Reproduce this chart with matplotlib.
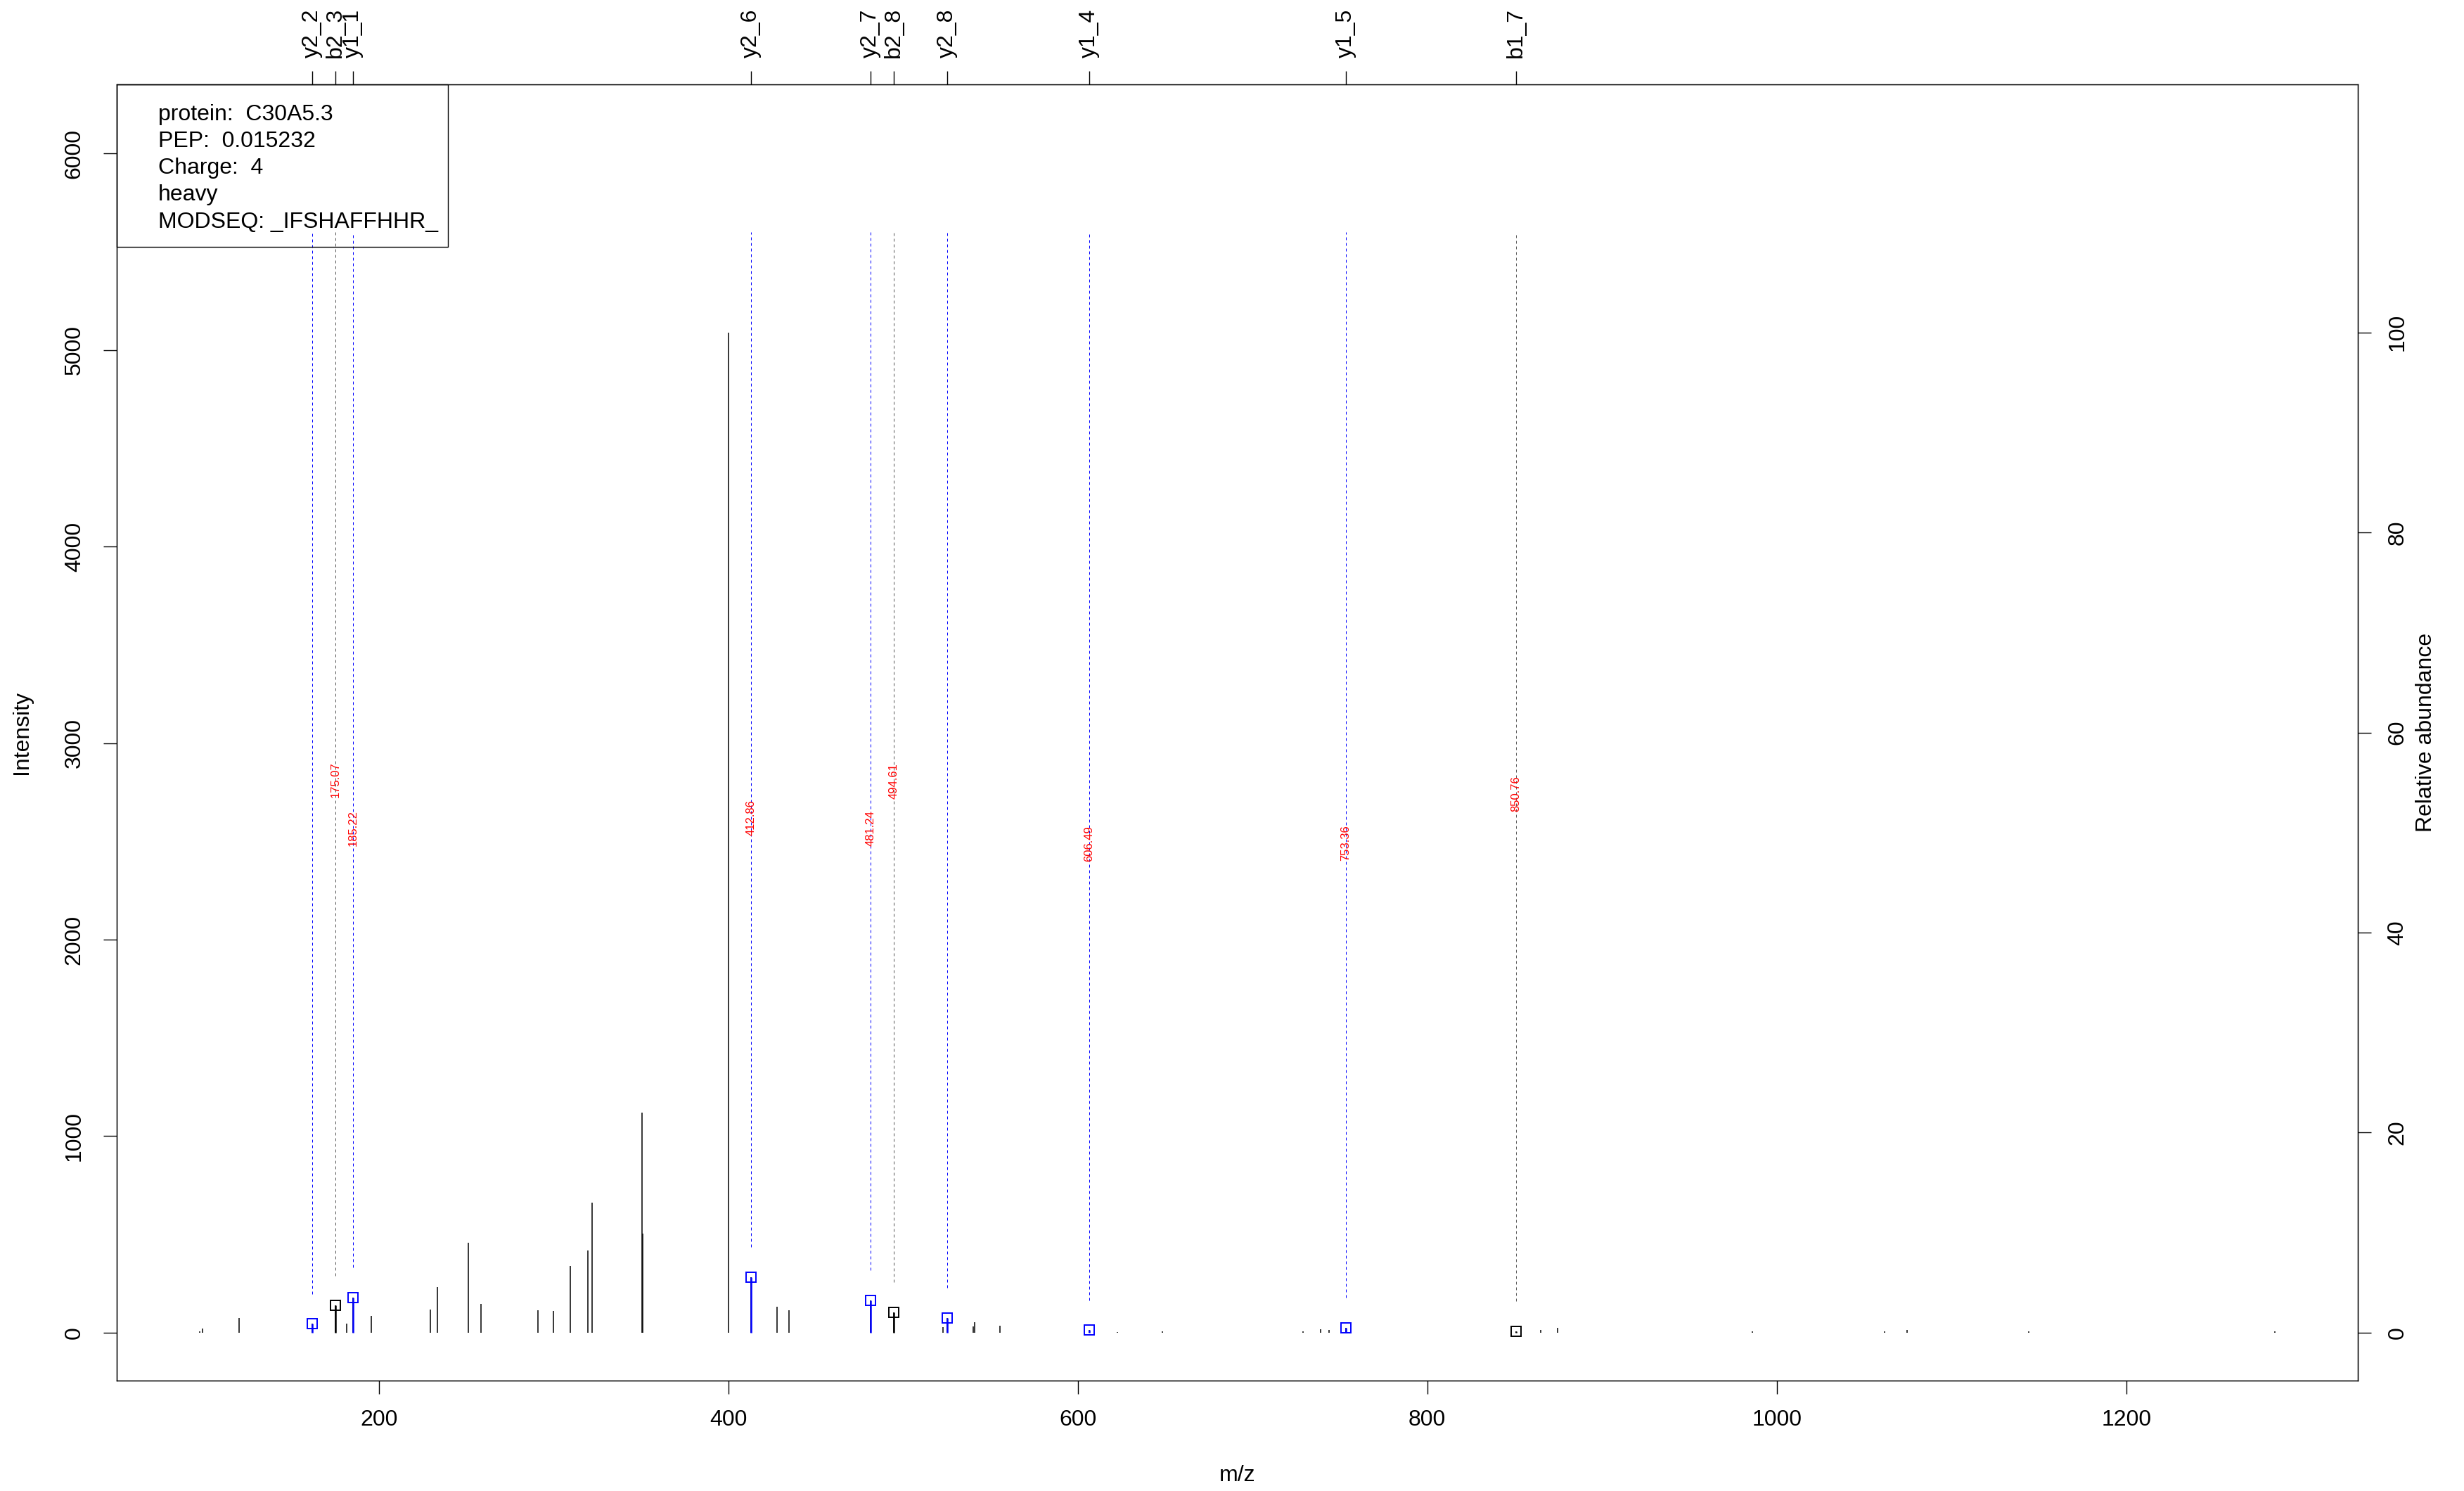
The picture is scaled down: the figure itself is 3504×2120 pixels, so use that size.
import numpy as np
import matplotlib
matplotlib.use("Agg")
import matplotlib.pyplot as plt
from matplotlib.patches import Rectangle

plt.rcParams['font.family'] = ['Liberation Sans', 'DejaVu Sans']

# unmatched peaks (m/z, intensity)
peak_mz = [97.5, 99.2, 120.2, 181.6, 195.5, 229.3, 233.4, 251.4, 258.3, 291.1,
           299.9, 309.4, 319.8, 321.9, 350.5, 351.2, 400.0, 427.7, 434.8, 522.7,
           540.1, 541.0, 555.6, 622.7, 648.4, 728.8, 738.8, 743.8, 864.9, 874.6,
           986.2, 1061.7, 1074.6, 1144.2, 1285.0]
peak_int = [8, 20, 75, 44, 85, 118, 231, 458, 146, 115,
            111, 338, 418, 662, 1120, 505, 5090, 131, 113, 26,
            30, 54, 36, 4, 6, 6, 18, 12, 13, 24,
            8, 8, 13, 8, 8]

# matched fragment ions
ion_names = ["y2_2", "b2_3", "y1_1", "y2_6", "y2_7", "b2_8", "y2_8", "y1_4", "y1_5", "b1_7"]
ion_mz = [162.0, 175.07, 185.22, 412.86, 481.24, 494.61, 525.3, 606.49, 753.36, 850.76]
ion_int = [44, 138, 179, 282, 164, 103, 74, 12, 24, 6]

# red m/z labels and their heights
mz_labels = ["175.07", "185.22", "412.86", "481.24", "494.61", "606.49", "753.36", "850.76"]
mz_label_x = [175.07, 185.22, 412.86, 481.24, 494.61, 606.49, 753.36, 850.76]
mz_label_y = [2815, 2569, 2622, 2566, 2808, 2490, 2490, 2742]

info_lines = ["protein:  C30A5.3", "PEP:  0.015232", "Charge:  4", "heavy",
              "MODSEQ: _IFSHAFFHHR_"]

W, H = 3504, 2120
fig = plt.figure(figsize=(W / 100, H / 100), dpi=100)
ax = fig.add_axes([166 / W, 1 - 1963 / H, (3353 - 166) / W, (1963 - 120) / H])

all_mz = peak_mz + ion_mz
all_int = peak_int + ion_int
imax = max(all_int)
xr = max(all_mz) - min(all_mz)
ax.set_xlim(min(all_mz) - 0.04 * xr, max(all_mz) + 0.04 * xr)
ytop = 1.2 * imax
ax.set_ylim(-0.04 * ytop, 1.04 * ytop)

# spectrum
ax.vlines(all_mz, 0, all_int, colors='black', lw=1.1)

ion_col = ['blue' if n.startswith('y') else 'black' for n in ion_names]
line_col = ['blue' if n.startswith('y') else '#555555' for n in ion_names]
ax.vlines(ion_mz, np.array(ion_int) + 0.03 * imax, 1.1 * imax, colors=line_col,
          linestyles=(0, (4, 4)), lw=0.72)
ax.vlines(ion_mz, 0, ion_int, colors=ion_col, lw=1.8)
for x, y, c in zip(ion_mz, ion_int, ion_col):
    ax.plot(x, y, marker='s', ms=9.4, mfc='none', mec=c, mew=1.4)

for x, y, t in zip(mz_label_x, mz_label_y, mz_labels):
    ax.text(x, y, t, rotation=90, ha='center', va='center', color='red', fontsize=12)

ax.set_xticks([200, 400, 600, 800, 1000, 1200])
ax.set_yticks(np.arange(0, 6001, 1000))
ax.tick_params(axis='x', length=14, width=1, labelsize=23, pad=15.5)
ax.tick_params(axis='y', length=14, width=1, labelsize=23, pad=18.5)
plt.setp(ax.get_yticklabels(), rotation=90, va='center')
for s in ax.spines.values():
    s.set_linewidth(1.0)

# top axis with ion names
ax_top = ax.twiny()
ax_top.set_xlim(ax.get_xlim())
ax_top.set_xticks(ion_mz)
ax_top.set_xticklabels(ion_names, rotation=90)
ax_top.tick_params(axis='x', length=14, width=1, labelsize=23, pad=13.5)

# right axis: relative abundance
ax_r = ax.twinx()
ax_r.set_ylim(np.array(ax.get_ylim()) / imax * 100)
ax_r.set_yticks(np.arange(0, 101, 20))
ax_r.tick_params(axis='y', length=14, width=1, labelsize=23, pad=16)
plt.setp(ax_r.get_yticklabels(), rotation=90, va='center')

fig.text(31 / W, 1 - 1041.5 / H, "Intensity", rotation=90, ha='center', va='center', fontsize=23)
fig.text(3450 / W, 1 - 1041.5 / H, "Relative abundance", rotation=90, ha='center', va='center',
         fontsize=23)
fig.text(1759.5 / W, 1 - 2098 / H, "m/z", ha='center', va='center', fontsize=23)

# info box
fig.add_artist(Rectangle((166 / W, 1 - 351 / H), (637 - 166) / W, (351 - 120) / H,
                         transform=fig.transFigure, fill=False, edgecolor='black', lw=1.0))
for i, line in enumerate(info_lines):
    fig.text(224.6 / W, 1 - (170.7 + 38.2 * i) / H, line, va='baseline', ha='left', fontsize=23)

fig.savefig("out.png", dpi=100)
